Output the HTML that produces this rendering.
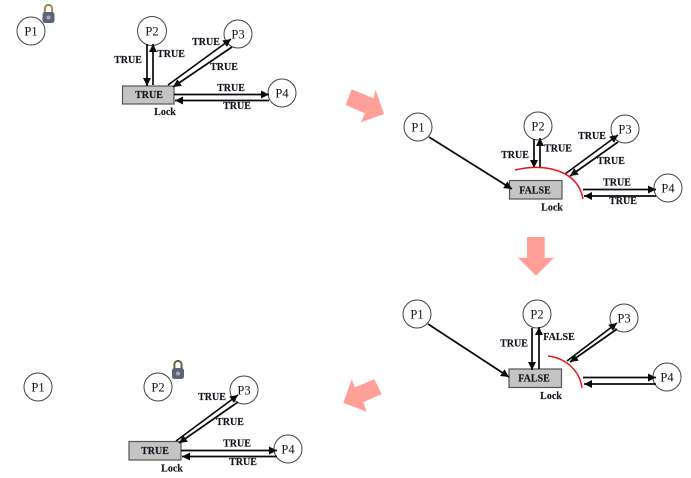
<!DOCTYPE html>
<html>
<head>
<meta charset="utf-8">
<style>
html,body{margin:0;padding:0;background:#fff;width:691px;height:478px;overflow:hidden}
svg{display:block;filter:blur(.35px)}
text{font-family:"Liberation Serif",serif;fill:#111}
.t{font-size:10px;font-weight:bold;text-anchor:middle;fill:#14141f;stroke:#14141f;stroke-width:.15px}
.p{font-size:12.5px;text-anchor:middle}
circle{fill:#fff;stroke:#444;stroke-width:1}
.r{fill:#c4c4c4;stroke:#555;stroke-width:1.2}
.l{stroke:#0a0a0a;stroke-width:1.7;fill:none;marker-end:url(#a)}
.red{stroke:#e8141c;stroke-width:1.5;fill:none}
.b{fill:#ff9f97}
</style>
</head>
<body>
<svg width="691" height="478" viewBox="0 0 691 478" xmlns="http://www.w3.org/2000/svg">
<defs>
<marker id="a" markerUnits="userSpaceOnUse" markerWidth="10" markerHeight="9" refX="8" refY="4.5" orient="auto"><path d="M0 .5L8 4.5L0 8.5Z" fill="#0a0a0a"/></marker>
<g id="lk1">
<path d="M-3.6 2V-3.5A3.6 3.6 0 0 1 3.6 -3.5V2" fill="none" stroke="#a08a45" stroke-width="2"/>
<rect x="-6" y="0" width="12" height="11" rx="2.5" fill="#5c6478"/>
<circle cx="0" cy="5.5" r="2" style="fill:#aab;stroke:none"/>
</g>
<g id="lk2">
<path d="M-3.6 2V-3.5A3.6 3.6 0 0 1 3.6 -3.5V2" fill="none" stroke="#6a6040" stroke-width="2"/>
<rect x="-6" y="0" width="12" height="11" rx="2.5" fill="#5c6478"/>
<circle cx="0" cy="5.5" r="2" style="fill:#aab;stroke:none"/>
</g>
</defs>

<polygon class="b" points="351.7,89.3 373.3,98.3 375.7,90 384,114 361,122.3 365,113.3 345.7,105"/>
<polygon class="b" points="527,237 544.7,237 544.7,257.7 554,257.7 536,275.7 518,257.7 527,257.7"/>
<polygon class="b" points="374.3,379.3 381.7,394 363.3,402.3 366.7,411.7 343.3,402.7 351.7,379.3 355,387.3"/>

<!-- Panel 1 -->
<rect class="r" x="122.5" y="86" width="51.5" height="18"/>
<circle cx="31" cy="31" r="14"/><text class="p" x="31" y="35.5">P1</text>
<circle cx="152" cy="31" r="14.5"/><text class="p" x="152" y="35.5">P2</text>
<circle cx="238" cy="34" r="14"/><text class="p" x="238" y="38.5">P3</text>
<circle cx="282" cy="93" r="14"/><text class="p" x="282" y="97.5">P4</text>
<line class="l" x1="147" y1="44" x2="147" y2="86"/>
<line class="l" x1="153" y1="85" x2="153" y2="44"/>
<line class="l" x1="168" y1="85" x2="231" y2="39"/>
<line class="l" x1="232" y1="47" x2="173" y2="87"/>
<line class="l" x1="174" y1="94.5" x2="269" y2="94.5"/>
<line class="l" x1="269" y1="100.5" x2="175" y2="100.5"/>
<text class="t" x="128" y="63">TRUE</text>
<text class="t" x="171" y="57">TRUE</text>
<text class="t" x="206" y="45">TRUE</text>
<text class="t" x="224" y="70">TRUE</text>
<text class="t" x="231" y="91">TRUE</text>
<text class="t" x="237" y="109">TRUE</text>
<text class="t" x="149" y="98">TRUE</text>
<text class="t" x="165" y="115">Lock</text>
<use href="#lk1" x="48.5" y="12"/>

<!-- Panel 2 -->
<rect class="r" x="509.5" y="180.5" width="52.5" height="18.5"/>
<circle cx="418" cy="127" r="14"/><text class="p" x="418" y="131.5">P1</text>
<circle cx="538" cy="126" r="14"/><text class="p" x="538" y="130.5">P2</text>
<circle cx="625" cy="129" r="14"/><text class="p" x="625" y="133.5">P3</text>
<circle cx="668" cy="188" r="14"/><text class="p" x="668" y="192.5">P4</text>
<line class="l" x1="429" y1="137" x2="512" y2="189"/>
<line class="l" x1="534" y1="139" x2="534" y2="168"/>
<line class="l" x1="540" y1="167" x2="540" y2="138"/>
<line class="l" x1="565" y1="174" x2="618" y2="135"/>
<line class="l" x1="618" y1="142" x2="570" y2="176"/>
<line class="l" x1="583" y1="189.5" x2="656" y2="189.5"/>
<line class="l" x1="656" y1="196" x2="584" y2="196"/>
<path class="red" d="M515 170C545 163 578 170 583 199"/>
<text class="t" x="515" y="158">TRUE</text>
<text class="t" x="558" y="151.5">TRUE</text>
<text class="t" x="592" y="139">TRUE</text>
<text class="t" x="611" y="164">TRUE</text>
<text class="t" x="617" y="185.5">TRUE</text>
<text class="t" x="623" y="204">TRUE</text>
<text class="t" x="535" y="193.5">FALSE</text>
<text class="t" x="552" y="210.5">Lock</text>

<!-- Panel 3 -->
<rect class="r" x="509" y="369" width="52.5" height="18.5"/>
<circle cx="417" cy="314" r="14"/><text class="p" x="417" y="318.5">P1</text>
<circle cx="537" cy="314" r="14"/><text class="p" x="537" y="318.5">P2</text>
<circle cx="624" cy="318" r="14"/><text class="p" x="624" y="322.5">P3</text>
<circle cx="667" cy="377" r="14"/><text class="p" x="667" y="381.5">P4</text>
<line class="l" x1="428" y1="324" x2="509" y2="377"/>
<line class="l" x1="532" y1="328" x2="532" y2="370"/>
<line class="l" x1="539" y1="369" x2="539" y2="327"/>
<line class="l" x1="567" y1="361" x2="617" y2="323"/>
<line class="l" x1="617" y1="329" x2="570" y2="362"/>
<line class="l" x1="583" y1="377.5" x2="656" y2="377.5"/>
<line class="l" x1="656" y1="384" x2="584" y2="384"/>
<path class="red" d="M548 356C565 358 580 370 582 388"/>
<text class="t" x="514" y="346.5">TRUE</text>
<text class="t" x="559" y="340">FALSE</text>
<text class="t" x="534" y="381.5">FALSE</text>
<text class="t" x="551" y="399">Lock</text>

<!-- Panel 4 -->
<rect class="r" x="129" y="441.5" width="52" height="18.5"/>
<circle cx="38" cy="387" r="14"/><text class="p" x="38" y="391.5">P1</text>
<circle cx="158" cy="387" r="14"/><text class="p" x="158" y="391.5">P2</text>
<circle cx="244" cy="390" r="14"/><text class="p" x="244" y="394.5">P3</text>
<circle cx="288" cy="449" r="14"/><text class="p" x="288" y="453.5">P4</text>
<line class="l" x1="176" y1="441" x2="238" y2="395"/>
<line class="l" x1="238" y1="402" x2="179" y2="443"/>
<line class="l" x1="181" y1="450.5" x2="277" y2="450.5"/>
<line class="l" x1="277" y1="456.5" x2="182" y2="456.5"/>
<text class="t" x="212" y="400">TRUE</text>
<text class="t" x="230" y="425">TRUE</text>
<text class="t" x="237" y="446.5">TRUE</text>
<text class="t" x="243" y="465">TRUE</text>
<text class="t" x="155" y="454">TRUE</text>
<text class="t" x="172" y="471.5">Lock</text>
<use href="#lk2" x="178" y="368"/>
</svg>
</body>
</html>
